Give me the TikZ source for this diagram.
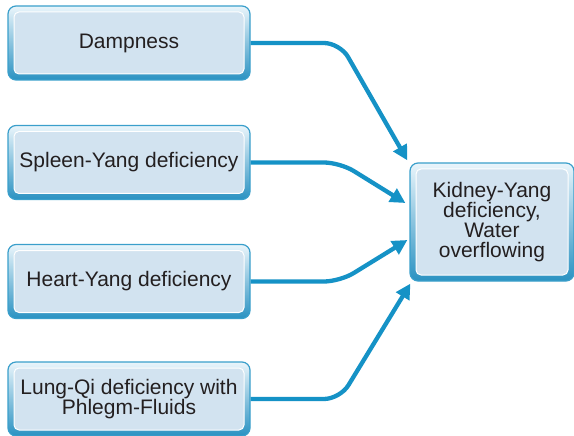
\documentclass[tikz,border=0pt]{standalone}
\usepackage{fontspec}
\setmainfont{Liberation Sans}
\usetikzlibrary{arrows.meta,calc}

\definecolor{flowblue}{HTML}{1592C6}
\definecolor{boxedge}{HTML}{3A9FCB}
\definecolor{boxtop}{HTML}{EAF5FB}
\definecolor{boxbottom}{HTML}{2A92C2}
\definecolor{boxfill}{HTML}{D2E3F0}
\definecolor{textgray}{HTML}{231F20}

\tikzset{
  cause/.style={rounded corners=8pt, draw=boxedge, line width=1.2pt,
    top color=boxtop, bottom color=boxbottom, text=textgray,
    align=center, inner sep=0pt,
    minimum width=242pt, minimum height=74pt,
    font=\fontsize{21}{20}\selectfont,
    path picture={
      \draw[white, line width=1pt, fill=boxfill, rounded corners=5pt]
        ($(path picture bounding box.south west)+(6pt,6pt)$) rectangle
        ($(path picture bounding box.north east)-(6pt,6pt)$);
    }},
  flow/.style={draw=flowblue, line width=4.3pt, rounded corners=16pt,
    -{Triangle[length=15pt,width=15pt]}}
}

\begin{document}
\begin{tikzpicture}[x=1pt,y=-1pt]
      \useasboundingbox (0,0) rectangle (574,436);
      \def\causes{
        \node [cause] (damp) at (129,43) {Dampness};
        \node [cause] (spleen) at (129,162.5) {Spleen-Yang deficiency};
        \node [cause] (heart) at (129,281.5) {Heart-Yang deficiency};
        \node [cause] (lung) at (129,399) {Lung-Qi deficiency with\\Phlegm-Fluids};
        \node [cause, minimum width=164pt, minimum height=118pt] (kidney)
          at (492,222) {Kidney-Yang\\deficiency,\\Water\\overflowing};
      }
      \def\targets{
        \coordinate (bend) at (340,0);
        \coordinate (t1) at ($ (kidney.north west)+(-2,-2) $);
        \coordinate (t2) at ($ (kidney.west)+(-4,-19) $);
        \coordinate (t3) at ($ (kidney.west)+(-2,18) $);
        \coordinate (t4) at ($ (kidney.south west)+(1,2) $);
      }
      \def\showFlows{
        % Draw arrows into the kidney box
        \foreach \src/\dst in {damp/t1,spleen/t2,heart/t3,lung/t4} {
          \draw [flow] (\src.east) -- (\src.east -| bend) -- (\dst);
        }
      }
      \causes
      \targets
      \showFlows
    \end{tikzpicture}
\end{document}
